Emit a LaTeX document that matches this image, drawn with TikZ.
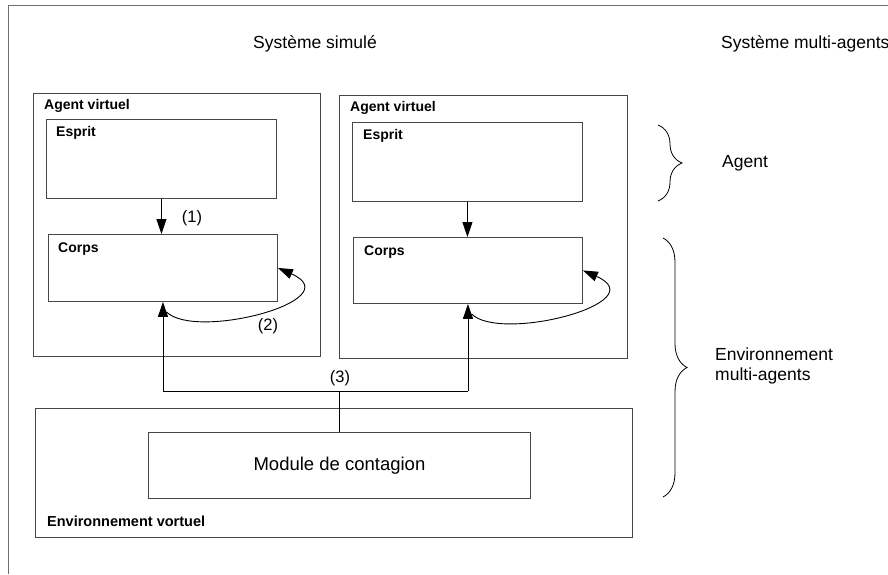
\documentclass[tikz,border=0pt]{standalone}
\usepackage{fontspec}
\setmainfont{Liberation Sans}
\usetikzlibrary{arrows.meta,decorations.pathreplacing,calc}
\definecolor{boxgray}{RGB}{70,70,70}
\definecolor{framegray}{RGB}{110,110,110}
\begin{document}
\begin{tikzpicture}[x=1pt,y=-1pt,
  frame/.style={draw=boxgray,line width=0.9pt,inner sep=0pt,anchor=north west},
  boldlbl/.style={font=\fontsize{14}{16}\selectfont\bfseries,inner sep=0pt,anchor=west},
  title/.style={font=\fontsize{17.5}{20}\selectfont,inner sep=0pt},
  numlbl/.style={font=\fontsize{16.5}{18}\selectfont,inner sep=0pt},
  arr/.style={draw=black,line width=0.9pt,-{Triangle[length=15pt,width=10pt]}},
  link/.style={draw=black,line width=0.9pt},
  bracestyle/.style={draw=black,line width=0.8pt,decorate,decoration={brace,amplitude=24pt}}]
\useasboundingbox (0,0) rectangle (888,574);
% outer frame
\draw[framegray,line width=1pt] (888,5) -- (8,5) -- (8,574);
% titles
\node[title] (t1) at (315,44) {Système simulé};
\node[title,anchor=west] (t2) at (721,44) {Système multi-agents};
% agent 1
\node[frame,minimum width=287pt,minimum height=263pt] (A1) at (33,93) {};
\node[boldlbl] (A1l) at (44,106) {Agent virtuel};
\node[frame,minimum width=230pt,minimum height=79pt] (E1) at (46,119) {};
\node[boldlbl] (E1l) at (56,133) {Esprit};
\node[frame,minimum width=229pt,minimum height=67pt] (C1) at (48,234) {};
\node[boldlbl] (C1l) at (58,249) {Corps};
% agent 2
\node[frame,minimum width=288pt,minimum height=263pt] (A2) at (339,95) {};
\node[boldlbl] (A2l) at (350,108) {Agent virtuel};
\node[frame,minimum width=230pt,minimum height=79pt] (E2) at (352,122) {};
\node[boldlbl] (E2l) at (363,136) {Esprit};
\node[frame,minimum width=229pt,minimum height=66pt] (C2) at (353,237) {};
\node[boldlbl] (C2l) at (364,252) {Corps};
% environment
\node[frame,minimum width=597pt,minimum height=129pt] (Env) at (35,408) {};
\node[boldlbl,font=\fontsize{14.5}{16}\selectfont\bfseries] (Envl) at (47,521) {Environnement vortuel};
\node[frame,minimum width=382pt,minimum height=66pt] (Mod) at (148,432) {};
\node[font=\fontsize{18.5}{21}\selectfont,inner sep=0pt] (Modl) at (Mod.center) {Module de contagion};
% arrows esprit -> corps
\draw[arr] (E1.south) -- (E1.south |- C1.north);
\draw[arr] (E2.south) -- (E2.south |- C2.north);
\node[numlbl] (n1) at (192,218) {(1)};
% loops
\draw[arr] ($(C1.south)+(3.5,10)$) .. controls +(29,29) and +(73,32) .. (C1.east);
\draw[arr] ($(C2.south)+(3.5,10)$) .. controls +(29,29) and +(73,32) .. (C2.east);
\node[numlbl] (n2) at (268,326) {(2)};
% contagion links
\coordinate (J) at (340,391);
\draw[link] (Mod.north) -- (Mod.north |- J);
\draw[link] (J -| C1.south) -- (J -| C2.south);
\draw[arr] (J -| C1.south) -- (C1.south);
\draw[arr] (J -| C2.south) -- (C2.south);
\node[numlbl] (n3) at (340,378) {(3)};
% braces
\draw[bracestyle] (658,125) -- (658,201);
\node[title,anchor=west] (ag) at (722,163) {Agent};
\draw[bracestyle] (663,238) -- (663,497);
\node[title,anchor=west,align=left] (em) at (715,366) {Environnement\\multi-agents};
\end{tikzpicture}
\end{document}
